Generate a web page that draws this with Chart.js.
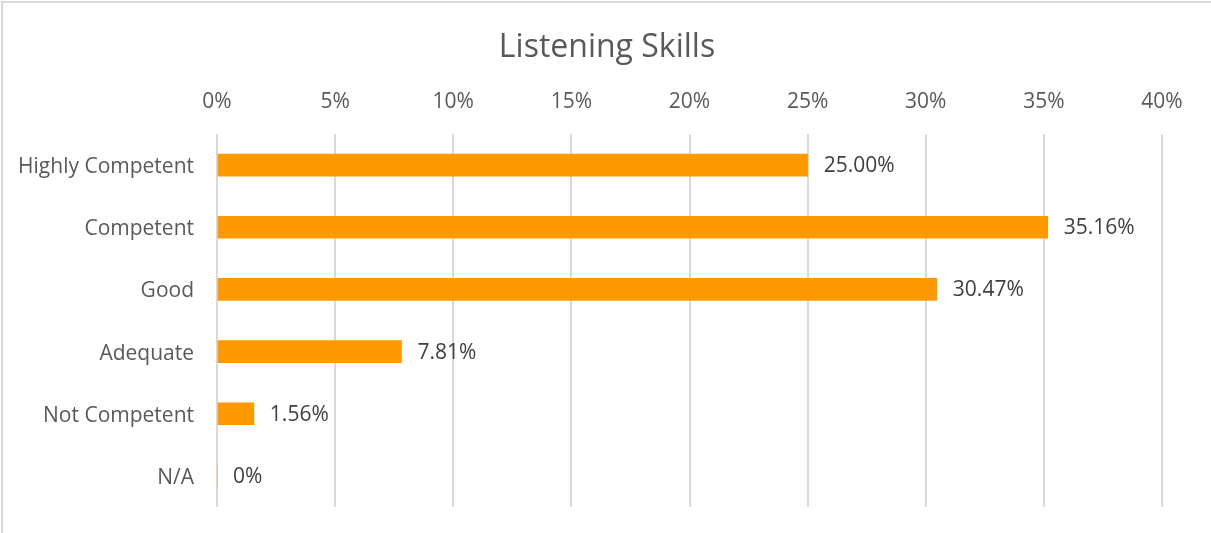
<!DOCTYPE html>
<html>
<head>
<meta charset="utf-8">
<script src="https://cdn.jsdelivr.net/npm/chart.js@4/dist/chart.umd.min.js"></script>
<style>
  html, body { margin: 0; padding: 0; background: #fff; overflow: hidden; }
  #wrap {
    position: relative; width: 1210px; height: 532px; box-sizing: border-box;
    border-left: 2px solid #d9d9d9; border-top: 2px solid #d9d9d9;
    margin-left: 1px; margin-top: 1px;
  }
  canvas { display: block; }
</style>
</head>
<body>
<div id="wrap"><canvas id="c" width="1208" height="530"></canvas></div>
<script>
const categories = ['Highly Competent', 'Competent', 'Good', 'Adequate', 'Not Competent', 'N/A'];
const percentages = [25.00, 35.16, 30.47, 7.81, 1.56, 0];
const axisTicks = [0, 5, 10, 15, 20, 25, 30, 35, 40];
const chartTitle = 'Listening Skills';

const FONT = "'Open Sans', sans-serif";
const canvas = document.getElementById('c');

function fmt(v) { return v === 0 ? '0%' : v.toFixed(2) + '%'; }

// Title centred on the whole canvas rather than the plot area
const centeredTitle = {
  id: 'centeredTitle',
  afterDraw(chart) {
    const ctx = chart.ctx;
    ctx.save();
    ctx.font = "32px " + FONT;
    ctx.fillStyle = '#595959';
    ctx.textAlign = 'center';
    ctx.textBaseline = 'middle';
    ctx.fillText(chartTitle, chart.width / 2, 45);
    ctx.restore();
  }
};

// Value labels just past the end of each bar
const valueLabels = {
  id: 'valueLabels',
  afterDatasetsDraw(chart) {
    const ctx = chart.ctx;
    const meta = chart.getDatasetMeta(0);
    ctx.save();
    ctx.font = "21px " + FONT;
    ctx.fillStyle = '#404040';
    ctx.textBaseline = 'middle';
    ctx.textAlign = 'left';
    meta.data.forEach((bar, i) => {
      ctx.fillText(fmt(percentages[i]), bar.x + 16, bar.y + 1);
    });
    ctx.restore();
  }
};

new Chart(canvas, {
  type: 'bar',
  data: {
    labels: categories,
    datasets: [{
      data: percentages,
      backgroundColor: '#ff9900',
      barThickness: 22,
      borderWidth: 0
    }]
  },
  options: {
    indexAxis: 'y',
    responsive: false,
    animation: false,
    layout: { padding: { left: 0, right: 49, top: 71, bottom: 26 } },
    plugins: {
      legend: { display: false },
      tooltip: { enabled: false },
      title: { display: false }
    },
    scales: {
      x: {
        position: 'top',
        min: 0, max: 40,
        afterBuildTicks(scale) { scale.ticks = axisTicks.map(v => ({ value: v })); },
        afterFit(scale) { scale.height = 60; },
        ticks: {
          callback: v => v + '%',
          color: '#595959',
          font: { family: FONT, size: 21 },
          padding: 19
        },
        grid: { color: '#d9d9d9', lineWidth: 2, drawTicks: false },
        border: { display: false }
      },
      y: {
        afterFit(scale) {
          scale.width = 214;
          scale.paddingTop = 0;
          scale.paddingBottom = 0;
        },
        ticks: {
          color: '#595959',
          font: { family: FONT, size: 21 },
          padding: 23,
          labelOffset: 2
        },
        grid: { display: false, drawTicks: false },
        border: { display: false }
      }
    }
  },
  plugins: [valueLabels, centeredTitle]
});
</script>
</body>
</html>
